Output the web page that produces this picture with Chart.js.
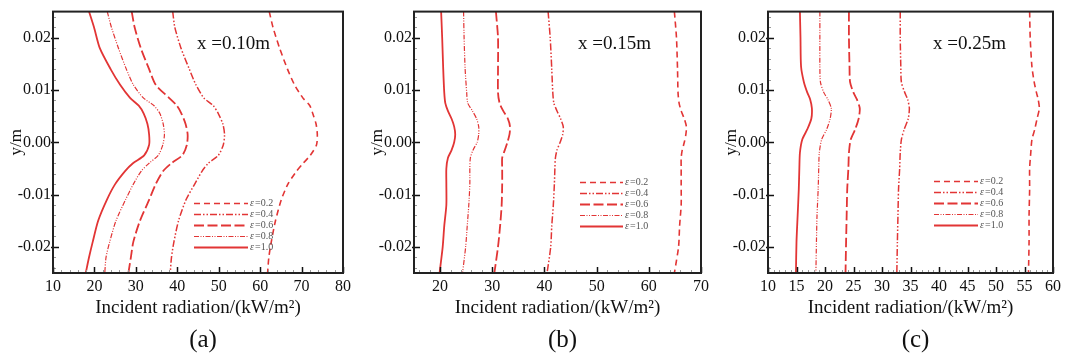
<!DOCTYPE html>
<html>
<head>
<meta charset="utf-8">
<title>Incident radiation profiles</title>
<script src="https://cdn.jsdelivr.net/npm/chart.js@4.4.1/dist/chart.umd.min.js"></script>
<style>
  html, body { margin: 0; padding: 0; background: #fff; }
  #wrap { position: relative; width: 1065px; height: 358px; overflow: hidden; }
  #wrap canvas { position: absolute; top: 0; }
</style>
</head>
<body>
<div id="wrap">
  <canvas id="chartA" width="355" height="358" style="left:0px"></canvas>
  <canvas id="chartB" width="358" height="358" style="left:355px"></canvas>
  <canvas id="chartC" width="355" height="358" style="left:710px"></canvas>
</div>
<script>
// ---- data (y in m, incident radiation in kW/m2) ----
const legendLabels = ['0.2', '0.4', '0.6', '0.8', '1.0'];
const yTicks = [-0.02, -0.01, 0, 0.01, 0.02];
const xTicksA = [10, 20, 30, 40, 50, 60, 70, 80];
const xTicksB = [20, 30, 40, 50, 60, 70];
const xTicksC = [10, 15, 20, 25, 30, 35, 40, 45, 50, 55, 60];

// panel (a), x = 0.10 m
const yLevelsA = [0.025, 0.022, 0.018, 0.014, 0.011, 0.0085, 0.007, 0.0055, 0.0035, 0.0015,
                  -0.0005, -0.0025, -0.004, -0.0055, -0.008, -0.011, -0.015, -0.019, -0.022, -0.025];
const radA_e02 = [62.2, 63.1, 64.7, 66.6, 68.3, 70.3, 72.0, 72.7, 73.5, 73.8, 73.6, 72.1, 70.4, 68.8, 66.7, 65.1, 63.7, 62.7, 62.1, 61.8];
const radA_e04 = [38.9, 39.4, 40.9, 42.9, 44.5, 46.4, 48.7, 49.9, 51.0, 51.4, 51.1, 49.9, 47.5, 46.0, 44.2, 42.1, 40.3, 39.2, 38.6, 38.3];
const radA_e06 = [29.0, 29.7, 31.2, 33.2, 34.8, 38.0, 39.9, 41.0, 42.0, 42.5, 42.3, 41.2, 38.6, 36.6, 34.8, 33.2, 31.0, 29.4, 28.8, 28.2];
const radA_e08 = [23.1, 24.1, 25.8, 27.7, 29.4, 31.8, 34.4, 35.8, 36.6, 36.9, 36.5, 35.4, 33.2, 31.3, 29.4, 27.5, 25.2, 23.7, 22.8, 22.5];
const radA_e10 = [18.7, 19.9, 21.3, 23.9, 26.2, 28.6, 30.7, 31.9, 32.8, 33.2, 33.2, 32.0, 29.3, 27.4, 25.0, 23.0, 20.9, 19.6, 18.7, 17.9];

// panel (b), x = 0.15 m
const yLevelsB = [0.025, 0.02, 0.014, 0.0095, 0.0075, 0.006, 0.0045, 0.003, 0.0015, 0,
                  -0.0015, -0.003, -0.005, -0.008, -0.012, -0.016, -0.02, -0.025];
const radB_e02 = [64.9, 65.3, 65.5, 65.6, 65.8, 66.2, 66.8, 67.2, 67.1, 66.8, 66.4, 66.2, 66.2, 66.2, 66.2, 65.9, 65.7, 64.9];
const radB_e04 = [40.7, 41.1, 41.4, 41.6, 41.8, 42.4, 43.1, 43.6, 43.5, 43.0, 42.4, 42.1, 42.0, 41.9, 41.7, 41.4, 41.2, 40.5];
const radB_e06 = [30.7, 31.1, 31.1, 31.1, 31.4, 32.1, 33.0, 33.4, 33.3, 32.9, 32.4, 31.9, 31.9, 31.9, 31.8, 31.5, 31.1, 30.4];
const radB_e08 = [24.5, 24.6, 24.8, 25.1, 25.3, 26.2, 27.0, 27.4, 27.4, 27.1, 26.3, 25.8, 25.7, 25.7, 25.5, 25.2, 24.9, 24.3];
const radB_e10 = [20.2, 20.4, 20.6, 20.8, 21.0, 21.5, 22.2, 22.7, 22.9, 22.7, 22.2, 21.5, 21.2, 21.2, 21.2, 20.8, 20.5, 19.9];

// panel (c), x = 0.25 m
const yLevelsC = [0.025, 0.02, 0.0145, 0.0115, 0.0095, 0.0082, 0.0065, 0.0045, 0.0025, 0.0005,
                  -0.002, -0.005, -0.009, -0.014, -0.019, -0.025];
const radC_e02 = [55.9, 56.0, 56.3, 56.7, 57.1, 57.4, 57.6, 57.2, 56.8, 56.3, 56.1, 55.9, 55.9, 55.8, 55.8, 55.7];
const radC_e04 = [33.2, 33.2, 33.3, 33.4, 34.0, 34.5, 34.8, 34.6, 33.9, 33.4, 33.2, 33.1, 32.9, 32.8, 32.7, 32.6];
const radC_e06 = [24.2, 24.2, 24.3, 24.4, 25.0, 25.6, 26.1, 25.9, 25.3, 24.5, 24.2, 24.1, 23.9, 23.8, 23.7, 23.6];
const radC_e08 = [19.1, 19.1, 19.1, 19.2, 19.8, 20.5, 21.1, 20.9, 20.3, 19.4, 19.0, 18.9, 18.8, 18.6, 18.5, 18.4];
const radC_e10 = [15.6, 15.7, 15.8, 16.3, 16.9, 17.4, 17.7, 17.6, 16.9, 16.0, 15.6, 15.5, 15.4, 15.2, 15.0, 14.9];

// ---- styling ----
const SERIF = '"Liberation Serif", "Times New Roman", serif';
const RED = '#e23535';
const dashes = [[6, 4], [7, 2, 1.5, 2, 1.5, 2], [10, 3.5], [5, 1.5, 1, 1.5, 1, 1.5], []];
const widths = [1.6, 1.5, 1.8, 1.2, 1.8];

function toPoints(xs, ys) {
    return xs.map((v, i) => ({ x: v, y: ys[i] }));
}

// frame, inward ticks, legend and the labels inside the plot
const framePlugin = {
    id: 'frame',
    afterDraw(chart, args, opts) {
        const { ctx, chartArea: a, scales: { x, y } } = chart;
        ctx.save();

        // minor ticks
        ctx.strokeStyle = '#999';
        ctx.lineWidth = 1;
        ctx.beginPath();
        for (let v = Math.ceil(x.min / opts.xMinor) * opts.xMinor; v <= x.max + 1e-9; v += opts.xMinor) {
            const px = Math.round(x.getPixelForValue(v)) + 0.5;
            ctx.moveTo(px, a.bottom); ctx.lineTo(px, a.bottom - 3);
        }
        for (let i = -12; i <= 12; i++) {
            const py = Math.round(y.getPixelForValue(i * 0.002)) + 0.5;
            ctx.moveTo(a.left, py); ctx.lineTo(a.left + 3, py);
        }
        ctx.stroke();

        // major ticks
        ctx.strokeStyle = '#111';
        ctx.lineWidth = 1.5;
        ctx.beginPath();
        x.ticks.forEach(t => {
            const px = Math.round(x.getPixelForValue(t.value)) + 0.5;
            ctx.moveTo(px, a.bottom); ctx.lineTo(px, a.bottom - 6);
        });
        y.ticks.forEach(t => {
            const py = Math.round(y.getPixelForValue(t.value)) + 0.5;
            ctx.moveTo(a.left - 2, py); ctx.lineTo(a.left + 6, py);
        });
        ctx.stroke();

        // frame
        ctx.strokeStyle = '#222';
        ctx.lineWidth = 2;
        ctx.strokeRect(a.left, a.top, a.width, a.height);

        // position note
        ctx.fillStyle = '#111';
        ctx.font = '19px ' + SERIF;
        ctx.textBaseline = 'middle';
        ctx.textAlign = 'left';
        ctx.fillText(opts.note, a.left + opts.noteX, a.top + 32);

        // legend
        const lx = a.left + opts.legendX;
        chart.data.datasets.forEach((ds, i) => {
            const ly = Math.round(a.top + opts.legendY + i * 11) + 0.5;
            ctx.strokeStyle = ds.borderColor;
            ctx.lineWidth = ds.borderWidth;
            ctx.setLineDash(ds.borderDash);
            ctx.beginPath();
            ctx.moveTo(lx, ly); ctx.lineTo(lx + opts.legendLen, ly);
            ctx.stroke();
            ctx.setLineDash([]);
            ctx.fillStyle = '#555';
            ctx.font = 'italic 10px ' + SERIF;
            ctx.fillText('\u03b5', lx + opts.legendLen + 2, ly);
            ctx.font = '10px ' + SERIF;
            ctx.fillText('=' + legendLabels[i], lx + opts.legendLen + 7, ly);
        });

        // panel letter
        ctx.fillStyle = '#111';
        ctx.font = '25px ' + SERIF;
        ctx.textAlign = 'center';
        ctx.fillText(opts.letter, (a.left + a.right) / 2 + 5, 340);
        ctx.restore();
    }
};

function makePanel(id, cfg) {
    const series = [cfg.e02, cfg.e04, cfg.e06, cfg.e08, cfg.e10];
    const datasets = series.map((xs, i) => ({
        label: '\u03b5=' + legendLabels[i],
        data: toPoints(xs, cfg.yLevels),
        borderColor: RED,
        borderWidth: widths[i],
        borderDash: dashes[i],
        pointRadius: 0,
        tension: 0.25,
        fill: false
    }));

    return new Chart(document.getElementById(id), {
        type: 'line',
        data: { datasets: datasets },
        plugins: [framePlugin],
        options: {
            responsive: false,
            animation: false,
            layout: { padding: { left: cfg.padLeft, right: cfg.padRight, top: 10, bottom: 33 } },
            plugins: {
                legend: { display: false },
                tooltip: { enabled: false },
                frame: {
                    xMinor: cfg.xMinor,
                    note: cfg.note,
                    noteX: cfg.noteX,
                    legendX: cfg.legendX,
                    legendY: cfg.legendY,
                    legendLen: cfg.legendLen,
                    letter: cfg.letter
                }
            },
            scales: {
                x: {
                    type: 'linear',
                    min: cfg.xMin,
                    max: cfg.xMax,
                    afterFit: s => { s.height = 52; },
                    afterBuildTicks: s => { s.ticks = cfg.xTicks.map(v => ({ value: v })); },
                    grid: { display: false, drawTicks: false },
                    border: { display: false },
                    ticks: {
                        autoSkip: false,
                        maxRotation: 0,
                        padding: 4,
                        color: '#111',
                        font: { family: SERIF, size: 16 },
                        callback: v => String(v)
                    },
                    title: {
                        display: true,
                        text: 'Incident radiation/(kW/m\u00b2)',
                        color: '#111',
                        font: { family: SERIF, size: 19 },
                        padding: { top: 0, bottom: 6 }
                    }
                },
                y: {
                    type: 'linear',
                    min: -0.025,
                    max: 0.025,
                    afterFit: s => { s.width = 53; },
                    afterBuildTicks: s => { s.ticks = yTicks.map(v => ({ value: v })); },
                    grid: { display: false, drawTicks: false },
                    border: { display: false },
                    ticks: {
                        padding: 2,
                        color: '#111',
                        font: { family: SERIF, size: 16 },
                        callback: v => v.toFixed(2)
                    },
                    title: {
                        display: true,
                        text: 'y/m',
                        color: '#111',
                        font: { family: SERIF, size: 17 },
                        padding: { top: 6, bottom: 0 }
                    }
                }
            }
        }
    });
}

makePanel('chartA', {
    yLevels: yLevelsA, e02: radA_e02, e04: radA_e04, e06: radA_e06, e08: radA_e08, e10: radA_e10,
    xMin: 10, xMax: 80, xTicks: xTicksA, xMinor: 2, padLeft: 0, padRight: 12,
    note: 'x =0.10m', noteX: 144, legendX: 141, legendY: 191, legendLen: 54, letter: '(a)'
});
makePanel('chartB', {
    yLevels: yLevelsB, e02: radB_e02, e04: radB_e04, e06: radB_e06, e08: radB_e08, e10: radB_e10,
    xMin: 15, xMax: 70, xTicks: xTicksB, xMinor: 2, padLeft: 6, padRight: 10,
    note: 'x =0.15m', noteX: 164, legendX: 166, legendY: 170, legendLen: 43, letter: '(b)'
});
makePanel('chartC', {
    yLevels: yLevelsC, e02: radC_e02, e04: radC_e04, e06: radC_e06, e08: radC_e08, e10: radC_e10,
    xMin: 10, xMax: 60, xTicks: xTicksC, xMinor: 1, padLeft: 5, padRight: 10,
    note: 'x =0.25m', noteX: 165, legendX: 166, legendY: 169, legendLen: 44, letter: '(c)'
});
</script>
</body>
</html>
